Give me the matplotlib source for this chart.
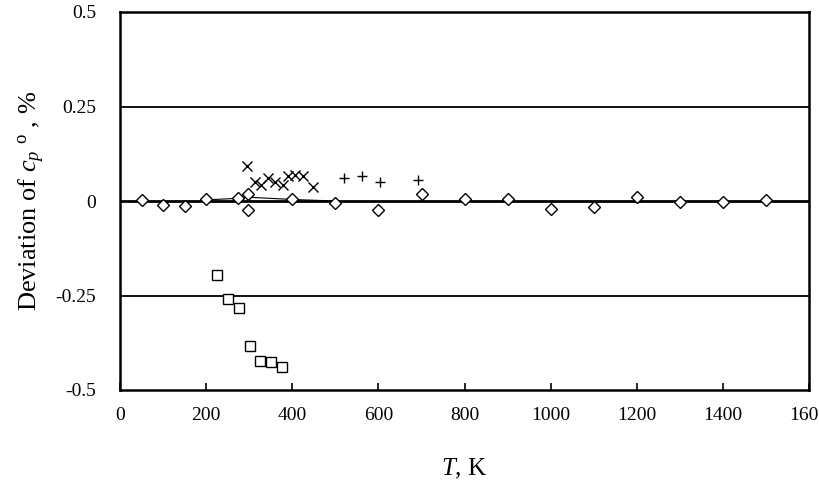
import matplotlib
matplotlib.use("Agg")
import matplotlib.pyplot as plt

plt.rcParams['font.family'] = ['Liberation Serif', 'DejaVu Serif']
plt.rcParams['mathtext.fontset'] = 'custom'
plt.rcParams['mathtext.it'] = 'Liberation Serif:italic'
plt.rcParams['mathtext.rm'] = 'Liberation Serif'

# diamonds
t_dia = [50, 100, 150, 200, 273, 298, 298, 400, 500, 600, 700, 800, 900,
         1000, 1100, 1200, 1300, 1400, 1500]
d_dia = [0.002, -0.01, -0.014, 0.004, 0.007, 0.018, -0.025, 0.006, -0.006,
         -0.023, 0.018, 0.004, 0.005, -0.02, -0.017, 0.011, -0.002, -0.002, 0.002]

# crosses
t_x = [296, 313, 328, 344, 360, 378, 391, 407, 425, 449]
d_x = [0.092, 0.051, 0.042, 0.062, 0.051, 0.042, 0.066, 0.068, 0.066, 0.036]

# plus
t_p = [521, 562, 604, 693]
d_p = [0.062, 0.066, 0.049, 0.055]

# squares
t_sq = [225, 250, 276, 301, 325, 350, 376]
d_sq = [-0.197, -0.258, -0.282, -0.383, -0.423, -0.425, -0.438]

# thin fitted line
t_fit = [200, 273, 298, 400, 500]
d_fit = [0.003, 0.007, 0.01, 0.004, 0.0]

fig = plt.figure(figsize=(8.19, 4.8), dpi=100)
ax = fig.add_axes([0.1465, 0.1875, 0.8415, 0.7875])

ax.axhline(0.25, color='black', lw=1.3, zorder=1)
ax.axhline(-0.25, color='black', lw=1.3, zorder=1)
ax.axhline(0, color='black', lw=2.0, zorder=1)
ax.plot(t_fit, d_fit, color='black', lw=0.8, zorder=2)

ax.plot(t_dia, d_dia, 'D', ms=6.3, mfc='white', mec='black', mew=1.0, ls='none', zorder=4)
ax.plot(t_x, d_x, 'x', ms=7, color='black', mew=1.0, ls='none', zorder=4)
ax.plot(t_p, d_p, '+', ms=7, color='black', mew=1.0, ls='none', zorder=4)
ax.plot(t_sq, d_sq, 's', ms=7, mfc='white', mec='black', mew=1.0, ls='none', zorder=4)

ax.set_xlim(0, 1600)
ax.set_ylim(-0.5, 0.5)
ax.set_xticks(range(0, 1601, 200))
ax.set_yticks([-0.5, -0.25, 0, 0.25, 0.5])
ax.set_yticklabels(['-0.5', '-0.25', '0', '0.25', '0.5'])
ax.tick_params(axis='x', direction='in', length=5, width=1.2, labelsize=14, pad=12)
ax.tick_params(axis='y', length=0, labelsize=14, pad=17)
for s in ax.spines.values():
    s.set_linewidth(1.8)

ax.set_xlabel(r'$T$, K', fontsize=18, labelpad=24)
ax.set_ylabel(r'Deviation of $c_p$ $^{\mathrm{o}}$ , %', fontsize=19, labelpad=6)

fig.savefig('out.png', dpi=100)
